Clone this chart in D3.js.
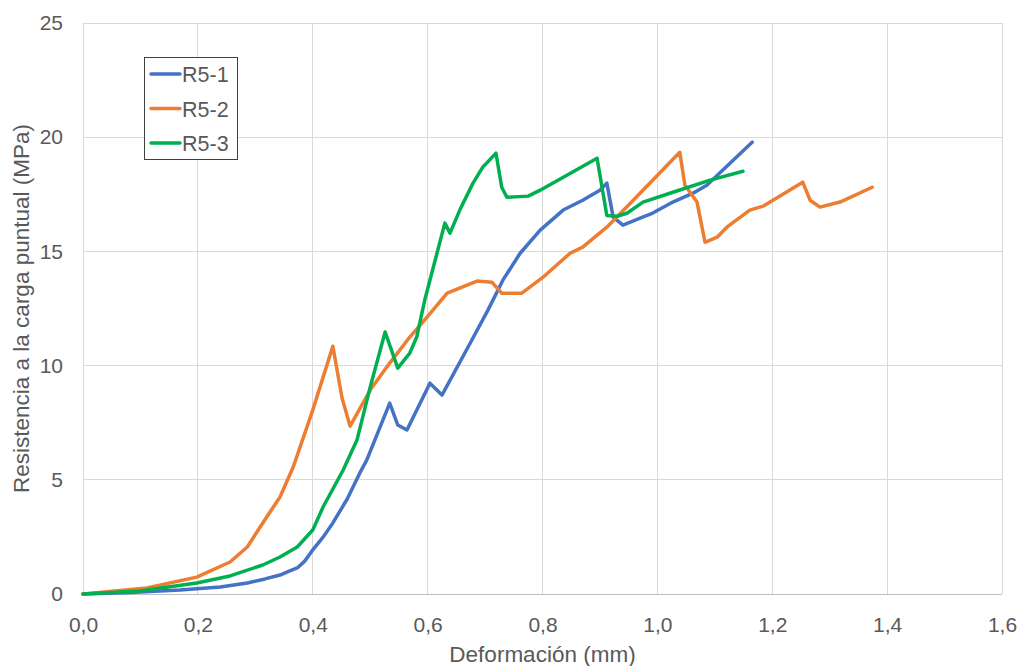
<!DOCTYPE html>
<html><head><meta charset="utf-8">
<script src="https://cdn.jsdelivr.net/npm/d3@7"></script>
<style>body{margin:0;background:#fff}svg{display:block}text{font-family:"Liberation Sans",Arial,sans-serif;fill:#595959}</style>
</head><body><svg id="c" width="1022" height="666"></svg>
<script>
const seriesNames = ["R5-1","R5-2","R5-3"];
const seriesColors = ["#4472C4","#ED7D31","#00B050"];
const xTicks = [0,0.2,0.4,0.6,0.8,1.0,1.2,1.4,1.6];
const yTicks = [0,5,10,15,20,25];
const r51 = [[0,0],[0.082,0.07],[0.169,0.18],[0.239,0.31],[0.286,0.48],[0.317,0.66],[0.343,0.83],[0.360,1.01],[0.373,1.14],[0.386,1.44],[0.400,1.93],[0.418,2.49],[0.435,3.11],[0.460,4.16],[0.482,5.30],[0.494,5.86],[0.534,8.36],[0.548,7.40],[0.564,7.18],[0.604,9.23],[0.625,8.71],[0.674,10.98],[0.705,12.43],[0.731,13.74],[0.761,14.92],[0.796,15.93],[0.836,16.81],[0.870,17.24],[0.900,17.68],[0.912,17.99],[0.923,16.50],[0.940,16.15],[0.970,16.46],[0.992,16.68],[1.027,17.16],[1.062,17.55],[1.086,17.90],[1.165,19.78]];
const r52 = [[0,0],[0.111,0.26],[0.198,0.74],[0.256,1.40],[0.286,2.06],[0.313,3.11],[0.343,4.25],[0.366,5.56],[0.400,8.05],[0.435,10.85],[0.451,8.58],[0.465,7.35],[0.500,8.93],[0.534,10.11],[0.569,11.25],[0.599,12.12],[0.634,13.17],[0.686,13.70],[0.712,13.65],[0.729,13.17],[0.764,13.17],[0.801,13.87],[0.848,14.92],[0.870,15.19],[0.912,16.06],[0.958,17.24],[1.039,19.34],[1.048,17.90],[1.069,17.16],[1.083,15.40],[1.104,15.62],[1.121,16.06],[1.161,16.81],[1.184,16.98],[1.253,18.03],[1.266,17.24],[1.283,16.94],[1.318,17.16],[1.374,17.81]];
const r53 = [[0,0],[0.099,0.13],[0.198,0.48],[0.256,0.79],[0.313,1.27],[0.343,1.62],[0.373,2.06],[0.400,2.80],[0.418,3.81],[0.453,5.43],[0.477,6.74],[0.500,9.06],[0.526,11.47],[0.548,9.89],[0.569,10.55],[0.581,11.25],[0.595,12.87],[0.630,16.24],[0.639,15.80],[0.656,16.81],[0.679,17.99],[0.696,18.69],[0.719,19.30],[0.729,17.81],[0.738,17.37],[0.775,17.42],[0.796,17.68],[0.895,19.08],[0.912,16.57],[0.930,16.54],[0.947,16.67],[0.975,17.16],[1.027,17.59],[1.092,18.12],[1.149,18.51]];
const seriesData = [r51, r52, r53];

const svg = d3.select("#c");
const m = {l:83, r:20, t:23, b:72};
const W = 1022, H = 666;
const x = d3.scaleLinear().domain([0,1.6]).range([m.l, W-m.r]);
const y = d3.scaleLinear().domain([0,25]).range([H-m.b, m.t]);
const fmt = d => d.toFixed(1).replace(".", ",");

svg.append("g").selectAll("line").data(xTicks).join("line")
  .attr("x1", d=>x(d)).attr("x2", d=>x(d)).attr("y1", y(0)).attr("y2", y(25))
  .attr("stroke", "#d9d9d9").attr("stroke-width", 1).attr("shape-rendering","crispEdges");
svg.append("g").selectAll("line").data(yTicks).join("line")
  .attr("x1", x(0)).attr("x2", x(1.6)).attr("y1", d=>y(d)).attr("y2", d=>y(d))
  .attr("stroke", d=> d===0 ? "#bfbfbf" : "#d9d9d9").attr("stroke-width", 1).attr("shape-rendering","crispEdges");

const xa = svg.append("g").attr("transform", `translate(0,${y(0)})`)
  .call(d3.axisBottom(x).tickValues(xTicks).tickFormat(fmt).tickSize(0).tickPadding(23));
xa.select(".domain").remove();
xa.selectAll("text").attr("font-size", 21).style("fill","#595959").attr("font-family","Liberation Sans, Arial, sans-serif");
const ya = svg.append("g").attr("transform", `translate(${x(0)},0)`)
  .call(d3.axisLeft(y).tickValues(yTicks).tickFormat(d3.format("d")).tickSize(0).tickPadding(20));
ya.select(".domain").remove();
ya.selectAll("text").attr("font-size", 21).style("fill","#595959").attr("font-family","Liberation Sans, Arial, sans-serif");

svg.append("text").attr("x", (x(0)+x(1.6))/2).attr("y", 662).attr("text-anchor","middle")
  .attr("font-size", 22.5).text("Deformación (mm)");
svg.append("text").attr("transform", `translate(29,${(y(0)+y(25))/2}) rotate(-90)`).attr("text-anchor","middle")
  .attr("font-size", 22.5).text("Resistencia a la carga puntual (MPa)");

const line = d3.line().x(d=>x(d[0])).y(d=>y(d[1]));
seriesData.forEach((s,i)=>{
  svg.append("path").datum(s).attr("d", line).attr("fill","none")
    .attr("stroke", seriesColors[i]).attr("stroke-width", 3.5)
    .attr("stroke-linejoin","round").attr("stroke-linecap","round");
});

const lg = svg.append("g");
lg.append("rect").attr("x",144.5).attr("y",57.5).attr("width",93).attr("height",102)
  .attr("fill","#fff").attr("stroke","#404040").attr("stroke-width",1);
seriesNames.forEach((n,i)=>{
  const yy = 74 + i*34.5;
  lg.append("line").attr("x1",151).attr("x2",180).attr("y1",yy).attr("y2",yy)
    .attr("stroke", seriesColors[i]).attr("stroke-width",3.5).attr("stroke-linecap","round");
  lg.append("text").attr("x",182).attr("y",yy+8).attr("font-size",21.5).text(n);
});
</script></body></html>
